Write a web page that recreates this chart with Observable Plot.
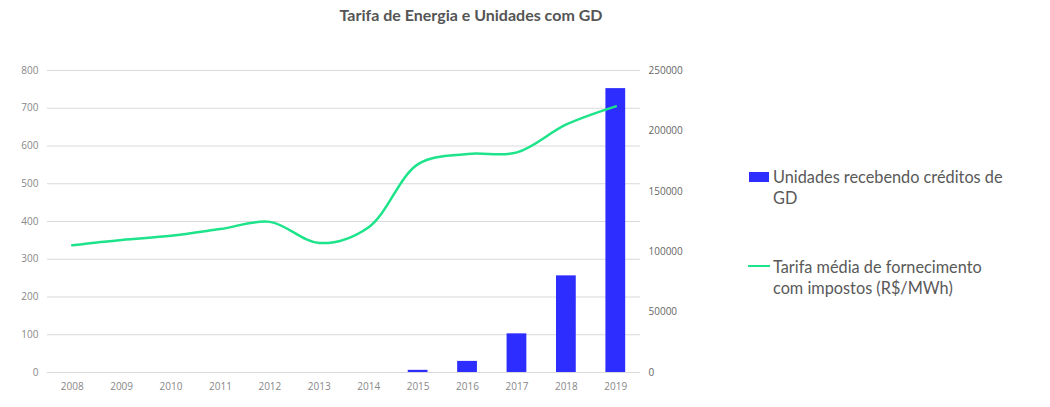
<!DOCTYPE html>
<html>
<head>
<meta charset="utf-8">
<script src="https://cdn.jsdelivr.net/npm/d3@7"></script>
<script src="https://cdn.jsdelivr.net/npm/@observablehq/plot@0.6"></script>
<style>
  html, body { margin: 0; padding: 0; background: #fff; }
  #wrap { position: relative; width: 1050px; height: 407px; }
  #title { position: absolute; left: 0; top: 5px; width: 942px; text-align: center;
    font-family: Lato, sans-serif; font-weight: bold; font-size: 16px; color: #555; }
  #chart { position: absolute; left: 0; top: 30px; }
  .leg { position: absolute; font-family: Lato, sans-serif; font-size: 16.3px; color: #595959; line-height: 21px; }
  .sw { position: absolute; }
</style>
</head>
<body>
<div id="wrap">
  <div id="title">Tarifa de Energia e Unidades com GD</div>
  <div id="chart"></div>
  <div class="sw" style="left:749px; top:172px; width:20px; height:10px; background:#2D2DFF;"></div>
  <div class="leg" style="left:773px; top:166px;">Unidades recebendo créditos de<br>GD</div>
  <div class="sw" style="left:748px; top:265px; width:22px; height:2px; background:#1DE38A;"></div>
  <div class="leg" style="left:773px; top:256px;">Tarifa média de fornecimento<br>com impostos (R$/MWh)</div>
</div>
<script>
const years = ["2008","2009","2010","2011","2012","2013","2014","2015","2016","2017","2018","2019"];
const unidades = [0, 0, 0, 0, 0, 0, 0, 1800, 9200, 32000, 80000, 235000];
const tarifa = [337, 351, 362, 380, 399, 343, 385, 552, 579, 583, 657, 705];
const leftTicks = [0, 100, 200, 300, 400, 500, 600, 700, 800];
const rightTicks = [0, 50000, 100000, 150000, 200000, 250000];

const leftMax = 800, rightMax = 250000;
const k = leftMax / rightMax;
const data = years.map((y, i) => ({year: y, u: unidades[i], t: tarifa[i]}));

const chart = Plot.plot({
  width: 1050,
  height: 377,
  marginLeft: 47,
  marginRight: 410,
  marginTop: 40,
  marginBottom: 35,
  style: {fontFamily: "'Open Sans', sans-serif", fontSize: "10px", color: "#888"},
  x: {domain: years, paddingInner: 0.6, paddingOuter: 0.3, round: false, label: null},
  y: {domain: [0, leftMax], label: null},
  marks: [
    Plot.gridY(leftTicks, {stroke: "#d9d9d9", strokeOpacity: 1, strokeWidth: 1}),
    Plot.axisY(leftTicks, {anchor: "left", tickSize: 0, tickPadding: 9, label: null, fill: "#888"}),
    Plot.axisY(rightTicks.map(v => v * k), {anchor: "right", tickSize: 0, tickPadding: 8, label: null,
      tickFormat: d => String(Math.round(d / k)), fill: "#666"}),
    Plot.axisX({tickSize: 0, tickPadding: 10, label: null, fill: "#888"}),
    Plot.barY(data, {x: "year", y: d => d.u * k, fill: "#2D2DFF"}),
    Plot.line(data, {x: "year", y: "t", stroke: "#1DE38A", strokeWidth: 2.5, curve: "catmull-rom"})
  ]
});
document.getElementById("chart").appendChild(chart);
</script>
</body>
</html>
